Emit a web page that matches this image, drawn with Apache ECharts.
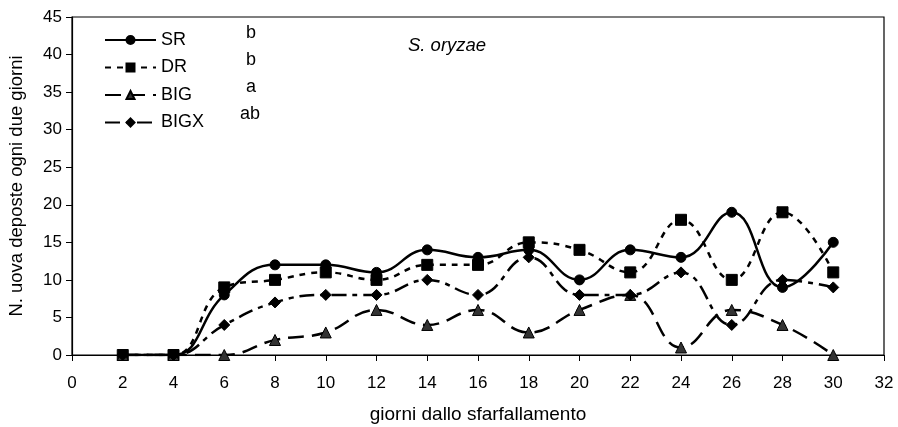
<!DOCTYPE html>
<html>
<head>
    <meta charset="utf-8">
    <title>S. oryzae</title>
    <script src="https://cdn.jsdelivr.net/npm/echarts@6/dist/echarts.min.js"></script>
    <style>
        html, body { margin: 0; padding: 0; background: #fff; }
    </style>
</head>
<body>
<div id="chart1" style="width:898px;height:427px;"></div>
<script type="text/javascript">
    // giorni dallo sfarfallamento
    const giorni = [2, 4, 6, 8, 10, 12, 14, 16, 18, 20, 22, 24, 26, 28, 30];
    // uova deposte ogni due giorni
    const sr   = [0, 0, 8, 12, 12, 11, 14, 13, 14, 10, 14, 13, 19, 9, 15];
    const dr   = [0, 0, 9, 10, 11, 10, 12, 12, 15, 14, 11, 18, 10, 19, 11];
    const big  = [0, 0, 0, 2, 3, 6, 4, 6, 3, 6, 8, 1, 6, 4, 0];
    const bigx = [0, 0, 4, 7, 8, 8, 10, 8, 13, 8, 8, 11, 4, 10, 9];
    const nomi = ['SR', 'DR', 'BIG', 'BIGX'];
    const lettere = ['b', 'b', 'a', 'ab'];

    const pairs = (ys) => giorni.map((x, i) => [x, ys[i]]);
    const font = 'Liberation Sans, Arial, sans-serif';

    let myChart1 = echarts.init(document.getElementById('chart1'));

    function serie(name, ys, symbol, size, color, dash) {
        return {
            name: name,
            type: 'line',
            data: pairs(ys),
            smooth: 0.45,
            symbol: symbol,
            symbolSize: size,
            showAllSymbol: true,
            lineStyle: { color: '#000', width: 2.5, type: dash },
            itemStyle: { color: color, borderColor: '#000', borderWidth: 1 },
            emphasis: { disabled: true },
            z: 3
        };
    }

    myChart1.setOption({
        animation: false,
        textStyle: { fontFamily: font },
        grid: {
            left: 72, right: 14, top: 17, bottom: 72,
            outerBoundsMode: 'none',
            show: true, borderColor: '#000', borderWidth: 1.2
        },
        legend: {
            orient: 'vertical',
            left: 99, top: 26,
            itemWidth: 51, itemHeight: 10, itemGap: 9.5,
            textStyle: { fontSize: 18, color: '#000', fontFamily: font },
            data: nomi
        },
        xAxis: {
            type: 'value',
            min: 0, max: 32, interval: 2,
            name: 'giorni dallo sfarfallamento',
            nameLocation: 'middle', nameGap: 50,
            nameTextStyle: { fontSize: 19, color: '#000' },
            axisLine: { lineStyle: { color: '#000', width: 1.2 } },
            axisTick: { inside: false, length: 6, lineStyle: { color: '#000' } },
            axisLabel: { fontSize: 17, color: '#000', margin: 20 },
            splitLine: { show: false }
        },
        yAxis: {
            type: 'value',
            min: 0, max: 45, interval: 5,
            name: 'N. uova deposte ogni due giorni',
            nameLocation: 'middle', nameGap: 46,
            nameTextStyle: { fontSize: 18.5, color: '#000' },
            axisLine: { show: true, lineStyle: { color: '#000', width: 1.2 } },
            axisTick: { show: true, inside: false, length: 6, lineStyle: { color: '#000' } },
            axisLabel: { fontSize: 17, color: '#000', margin: 10 },
            splitLine: { show: false }
        },
        graphic: [
            {
                type: 'text', left: 408, top: 36,
                style: { text: 'S. oryzae', font: 'italic 18.5px ' + font, fill: '#000' }
            }
        ].concat(lettere.map((t, i) => ({
            type: 'text', left: (t.length > 1 ? 240 : 246), top: 24 + i * 27,
            style: { text: t, font: '18px ' + font, fill: '#000' }
        }))),
        series: [
            serie('SR', sr, 'circle', 10, '#000', 'solid'),
            serie('DR', dr, 'rect', 11, '#000', [6, 6]),
            serie('BIG', big, 'triangle', 11, '#333', [16, 8]),
            serie('BIGX', bigx, 'diamond', 11, '#000', [15, 6, 5, 6])
        ]
    });
</script>
</body>
</html>
